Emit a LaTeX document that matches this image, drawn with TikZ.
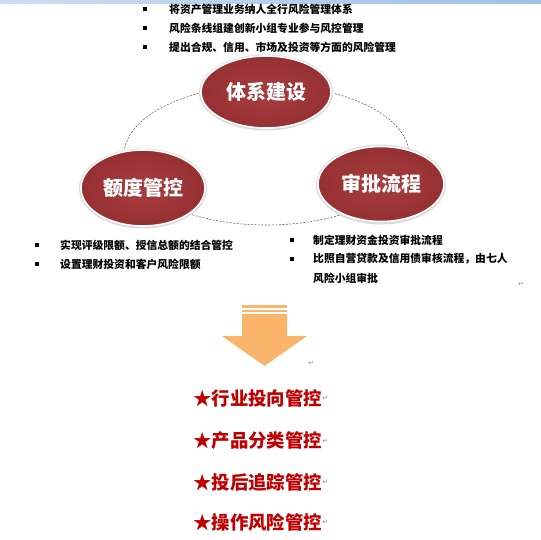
\documentclass[tikz,border=0pt]{standalone}
\usepackage{fontspec}
\newfontfamily\cjk{Noto Sans CJK SC}
\newfontfamily\dejavu{DejaVu Sans}
\usetikzlibrary{shapes.geometric}
\definecolor{ellred}{RGB}{150,48,50}
\definecolor{ellredin}{RGB}{168,62,62}
\definecolor{starred}{RGB}{192,0,0}
\definecolor{arroworange}{RGB}{250,180,108}
\definecolor{barblue}{RGB}{160,192,228}
\definecolor{barlight}{RGB}{205,222,242}
\tikzset{
  bigell/.style={ellipse, inner sep=0pt, draw=white, line width=1.6pt,
    inner color=ellredin, outer color=ellred,
    text=white, font=\cjk\bfseries\fontsize{20}{24}\selectfont},
  ellshadow/.style={fill=black!14},
  bul/.style={fill=black, minimum size=3.6pt, inner sep=0pt},
  btxt/.style={anchor=west, inner sep=0pt, font=\cjk\bfseries\fontsize{10.8}{13}\selectfont},
  startxt/.style={anchor=west, inner sep=0pt, text=starred, font=\cjk\bfseries\fontsize{18.4}{22}\selectfont},
  retmark/.style={anchor=west, inner sep=0pt, text=black!45, font=\dejavu\fontsize{7}{8}\selectfont},
  dashring/.style={draw=black!60, line width=0.6pt, dash pattern=on 2pt off 1.5pt},
}
\begin{document}
\begin{tikzpicture}[x=1pt,y=-1pt]
\useasboundingbox (0,0) rectangle (541,540);
\fill[white] (0,0) rectangle (541,540);
% top bar
\shade[left color=barlight, right color=barblue] (0,0) rectangle (541,3.2);

% dashed ring
\draw[dashring] (266.5,155) ellipse [x radius=142.5, y radius=70];

% ellipses
\fill[ellshadow] (266,92.5) ellipse [x radius=67, y radius=38];
\node[bigell, minimum width=130pt, minimum height=72pt] (sys) at (266,92) {体系建设};
\fill[ellshadow] (143,188.5) ellipse [x radius=64, y radius=40];
\node[bigell, minimum width=124pt, minimum height=76pt] (quota) at (143,188) {额度管控};
\fill[ellshadow] (381,184.5) ellipse [x radius=65, y radius=40];
\node[bigell, minimum width=126pt, minimum height=75pt] (appr) at (381,184) {审批流程};

% top bullets
\node[bul] (b1) at (145,9) {};
\node[btxt] (t1) at (169,9) {将资产管理业务纳人全行风险管理体系};
\node[bul] (b2) at (145,28) {};
\node[btxt] (t2) at (169,28) {风险条线组建创新小组专业参与风控管理};
\node[bul] (b3) at (145,47) {};
\node[btxt] (t3) at (169,47) {提出合规、信用、市场及投资等方面的风险管理};

% lower left bullets
\node[bul] (b4) at (37,245) {};
\node[btxt] (t4) at (60,245) {实现评级限额、授信总额的结合管控};
\node[bul] (b5) at (37,264) {};
\node[btxt] (t5) at (60,264) {设置理财投资和客户风险限额};

% lower right bullets
\node[bul] (b6) at (292,240) {};
\node[btxt] (t6) at (313,240) {制定理财资金投资审批流程};
\node[bul] (b7) at (292,259) {};
\node[btxt] (t7) at (313,259) {比照自营贷款及信用债审核流程，由七人};
\node[btxt] (t8) at (313,278) {风险小组审批};
\node[retmark] (r0) at (518,284) {↵};

% down arrow
\fill[arroworange] (242,305) rectangle (287,307.6);
\fill[arroworange] (242,310) rectangle (287,312.2);
\fill[arroworange] (242,314) -- (287,314) -- (287,336) -- (307,336) -- (264.5,366)
  -- (222,336) -- (242,336) -- cycle;
\node[retmark] (r1) at (308,363) {↵};

% star lines
\node[startxt] (s1) at (193,398) {★行业投向管控};
\node[retmark] (r2) at (s1.east) {↵};
\node[startxt] (s2) at (193,441) {★产品分类管控};
\node[retmark] (r3) at (s2.east) {↵};
\node[startxt] (s3) at (193,482) {★投后追踪管控};
\node[retmark] (r4) at (s3.east) {↵};
\node[startxt] (s4) at (193,522) {★操作风险管控};
\node[retmark] (r5) at (s4.east) {↵};
\end{tikzpicture}
\end{document}
